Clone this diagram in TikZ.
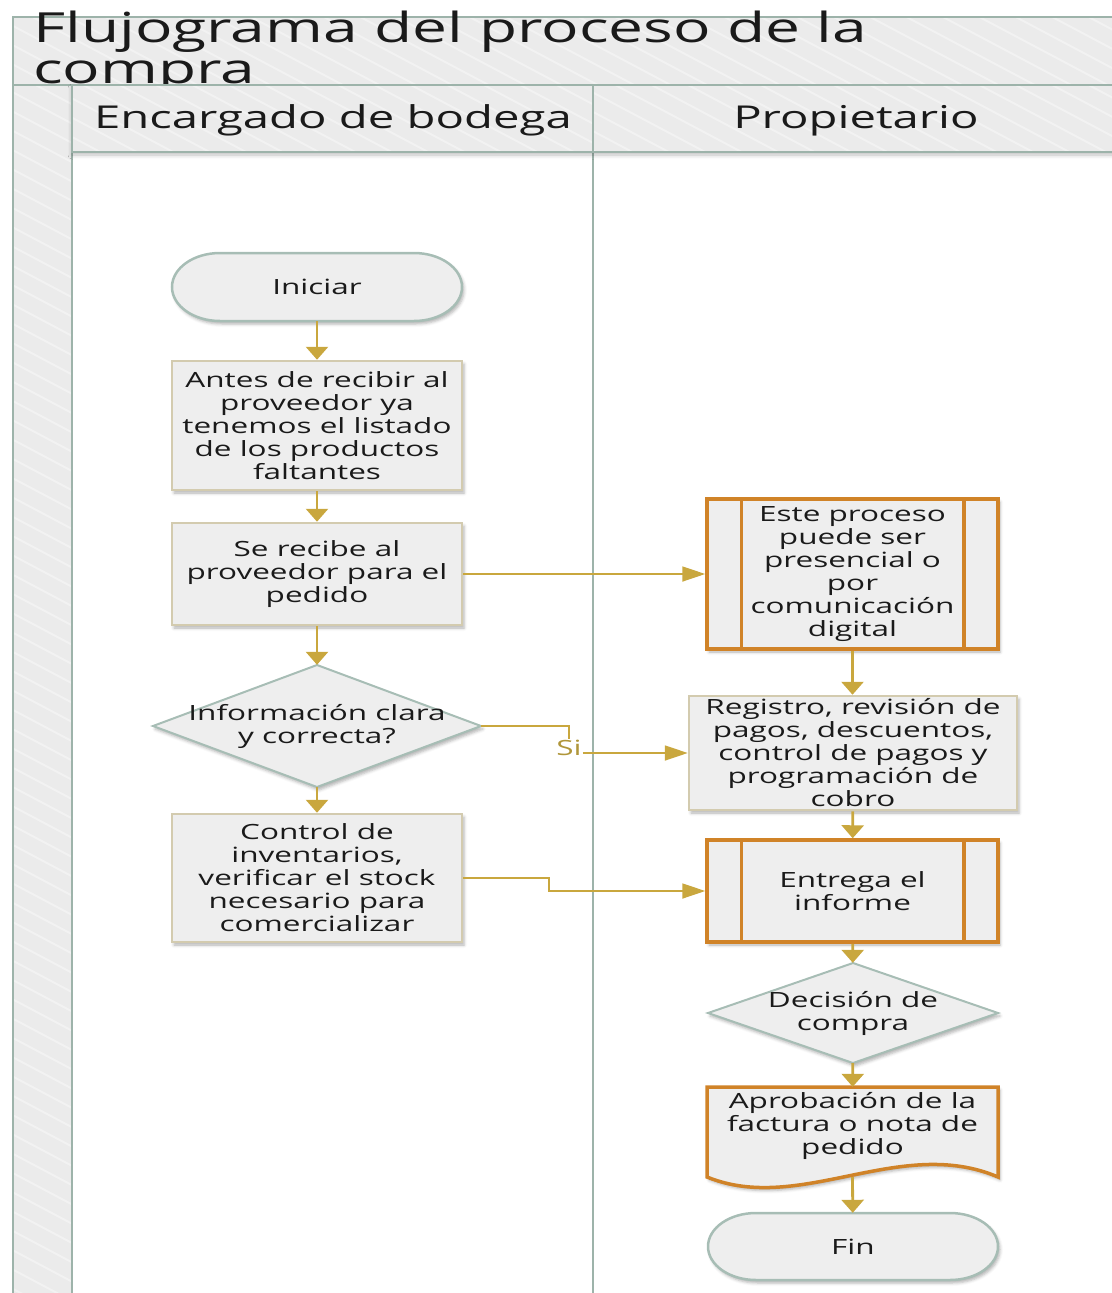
\documentclass[tikz,border=0pt]{standalone}
\usepackage{fontspec}
\setmainfont{Open Sans}[FakeStretch=1.5]
\usetikzlibrary{arrows.meta,shadows.blur,calc}
\definecolor{lanecol}{HTML}{9DB3AA}
\definecolor{headfill}{HTML}{EBEBEB}
\definecolor{stripec}{HTML}{F2F2F2}
\definecolor{nodefill}{HTML}{EEEEEE}
\definecolor{termcol}{HTML}{A7BDB5}
\definecolor{boxcol}{HTML}{D3CBAF}
\definecolor{orangec}{HTML}{D08328}
\definecolor{goldc}{HTML}{C9A73E}
\definecolor{sicol}{HTML}{B0963A}
\definecolor{txtc}{HTML}{1A1A1A}
\newcommand{\bodyfont}{\fontsize{21}{23}\selectfont}
\newcommand{\titlefont}{\fontsize{41.5}{41}\selectfont}
\newcommand{\headfont}{\fontsize{31.5}{31.5}\selectfont}
% striped band: x1 y1 x2 y2
\newcommand{\stripeband}[4]{%
  \fill[headfill] (#1,#2) rectangle (#3,#4);
  \begin{scope}
    \clip (#1,#2) rectangle (#3,#4);
    \pgfmathsetmacro{\ysa}{#2-(#3-#1)*0.53}
    \pgfmathsetmacro{\ysb}{\ysa+19.3}
    \foreach \yy in {\ysa,\ysb,...,#4} {
      \draw[draw=stripec,line width=2pt] (#1,\yy) -- ++({#3-#1},{(#3-#1)*0.53});
    }
  \end{scope}
  \draw[draw=lanecol,line width=2.5pt] (#1,#2) rectangle (#3,#4);
}
\begin{document}
\begin{tikzpicture}[x=1pt,y=-1pt,
  sh/.style={blur shadow={shadow xshift=2pt,shadow yshift=-3pt,shadow blur radius=3pt,shadow opacity=30}},
  txtnode/.style={rectangle,inner sep=2pt,align=center,font=\bodyfont,text=txtc},
  term/.style={txtnode,draw=none,minimum width=290pt,minimum height=68pt},
  box/.style={txtnode,fill=nodefill,draw=boxcol,line width=2.5pt,minimum width=290pt,sh},
  pbox/.style={txtnode,fill=nodefill,draw=orangec,line width=3.5pt,minimum width=291pt,sh},
  dnode/.style={txtnode,draw=none},
  termshape/.style={fill=nodefill,draw=termcol,line width=2.5pt,sh},
  dshape/.style={fill=nodefill,draw=termcol,line width=2pt,sh},
  docshape/.style={fill=nodefill,draw=orangec,line width=3.5pt,sh},
  oline/.style={draw=orangec,line width=3.5pt},
  vconn/.style={draw=goldc,line width=2.8pt,-{Triangle[length=13pt,width=22pt]}},
  hconn/.style={draw=goldc,line width=1.8pt,-{Triangle[length=23pt,width=15pt]}},
  conn/.style={draw=goldc,line width=2pt}]
\useasboundingbox (0,0) rectangle (1111,1293);
% pool and lanes
\stripeband{13}{17}{1125}{85}
\node[font=\titlefont,text=txtc,anchor=base west,inner sep=0pt] (t1) at (33,42) {Flujograma del proceso de la};
\node[font=\titlefont,text=txtc,anchor=base west,inner sep=0pt] (t2) at (33,83) {compra};
\stripeband{13}{85}{72}{1320}
\draw[draw=lanecol,line width=2.5pt] (72,152) rectangle (593,1320);
\draw[draw=lanecol,line width=2.5pt] (593,152) rectangle (1125,1320);
\fill[white,blur shadow={shadow xshift=0pt,shadow yshift=-3pt,shadow blur radius=4pt,shadow opacity=25}] (72,85) rectangle (1125,152);
\stripeband{72}{85}{593}{152}
\stripeband{593}{85}{1125}{152}
\node[font=\headfont,text=txtc,anchor=base] (h1) at (333,128) {Encargado de bodega};
\node[font=\headfont,text=txtc,anchor=base] (h2) at (856,128) {Propietario};

% shapes drawn directly (terminals, decisions, document)
\path[termshape] (220,253) -- (414,253)
  arc[start angle=-90,end angle=90,x radius=48,y radius=34]
  -- (220,321) arc[start angle=90,end angle=270,x radius=48,y radius=34] -- cycle;
\path[termshape] (756,1213) -- (950,1213)
  arc[start angle=-90,end angle=90,x radius=48,y radius=33.5]
  -- (756,1280) arc[start angle=90,end angle=270,x radius=48,y radius=33.5] -- cycle;
\path[dshape] (317,665) -- (481,726) -- (317,787) -- (153,726) -- cycle;
\path[dshape] (853,963) -- (998,1013) -- (853,1063) -- (708,1013) -- cycle;
\path[docshape] (707,1087) -- (998,1087) -- (998,1177)
  .. controls (900,1135) and (800,1215) .. (707,1177) -- cycle;

% nodes
\node[term] (ini) at (317,287) {Iniciar};
\node[box,minimum height=129pt] (ant) at (317,425.5) {Antes de recibir al\\proveedor ya\\tenemos el listado\\de los productos\\faltantes};
\node[box,minimum height=102pt] (rec) at (317,574) {Se recibe al\\proveedor para el\\pedido};
\node[dnode,minimum width=328pt,minimum height=122pt] (info) at (317,726) {Información clara\\y correcta?};
\node[box,minimum height=128pt] (ctl) at (317,878) {Control de\\inventarios,\\verificar el stock\\necesario para\\comercializar};
\node[pbox,minimum height=150pt] (ep) at (852.5,574) {Este proceso\\puede ser\\presencial o\\por\\comunicación\\digital};
\node[box,minimum width=328pt,minimum height=114pt] (reg) at (853,753) {Registro, revisión de\\pagos, descuentos,\\control de pagos y\\programación de\\cobro};
\node[pbox,minimum height=102pt] (ent) at (852.5,891) {Entrega el\\informe};
\node[dnode,minimum width=290pt,minimum height=100pt] (dec) at (853,1013) {Decisión de\\compra};
\node[dnode,minimum width=291pt,minimum height=78pt] (apr) at (852.5,1126) {Aprobación de la\\factura o nota de\\pedido};
\node[term,minimum height=67pt] (fin) at (853,1246.5) {Fin};

\draw[oline] ([xshift=36pt]ep.north west) -- ([xshift=36pt]ep.south west);
\draw[oline] ([xshift=-36pt]ep.north east) -- ([xshift=-36pt]ep.south east);
\draw[oline] ([xshift=36pt]ent.north west) -- ([xshift=36pt]ent.south west);
\draw[oline] ([xshift=-36pt]ent.north east) -- ([xshift=-36pt]ent.south east);

% connectors
\draw[vconn] (ini) -- (ant);
\draw[vconn] (ant) -- (rec);
\draw[vconn] (rec) -- (info);
\draw[vconn] (info) -- (ctl);
\draw[hconn] (rec) -- (ep);
\node[text=sicol,font=\bodyfont,fill=white,inner sep=1pt] (si) at (569,748) {Si};
\draw[conn] (info.east) -| (si.north);
\draw[hconn] (si.east |- reg.west) -- (reg.west);
\draw[hconn] (ctl.east) -- ++(86,0) |- (ent.west);
\draw[vconn] (ep.south) -- (ep.south |- reg.north);
\draw[vconn] (reg) -- (ent);
\draw[vconn] (ent) -- (dec);
\draw[vconn] (dec) -- (apr);
\draw[vconn] ([yshift=-12pt]apr.south) -- (fin);
\end{tikzpicture}
\end{document}
